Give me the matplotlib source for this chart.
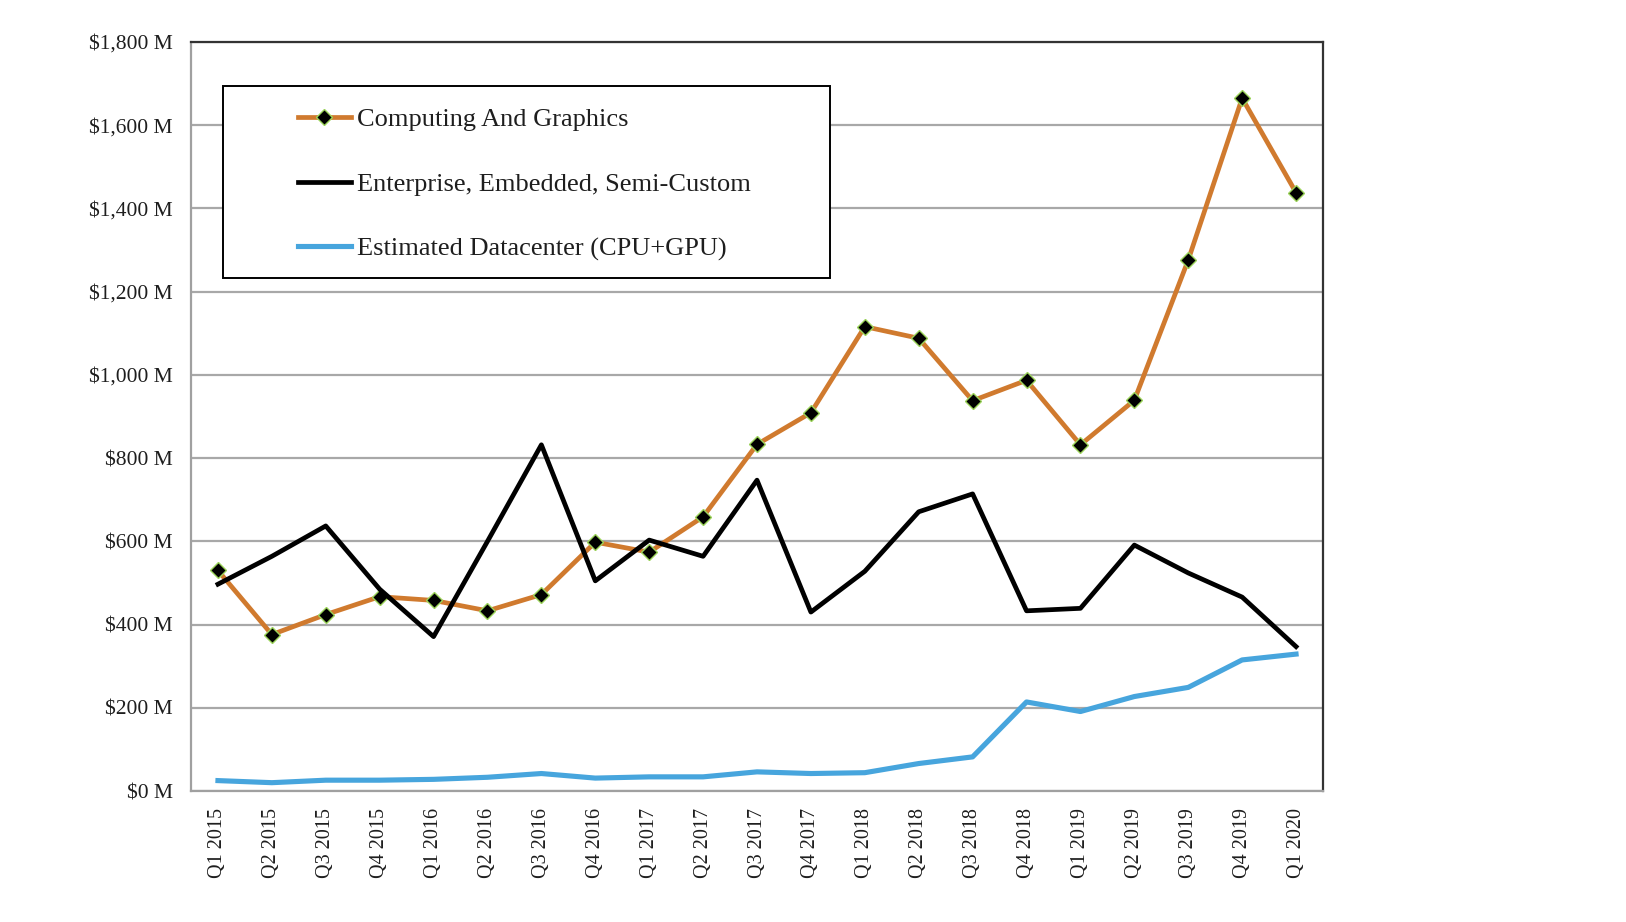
import matplotlib.pyplot as plt
from matplotlib.patches import Rectangle
from matplotlib.ticker import FuncFormatter

quarters = ['Q1 2015', 'Q2 2015', 'Q3 2015', 'Q4 2015',
            'Q1 2016', 'Q2 2016', 'Q3 2016', 'Q4 2016',
            'Q1 2017', 'Q2 2017', 'Q3 2017', 'Q4 2017',
            'Q1 2018', 'Q2 2018', 'Q3 2018', 'Q4 2018',
            'Q1 2019', 'Q2 2019', 'Q3 2019', 'Q4 2019',
            'Q1 2020']

# revenue, $M
computing = [530, 376, 424, 467, 458, 433, 472, 598, 574, 659,
             833, 909, 1116, 1088, 938, 987, 832, 939, 1276, 1665, 1438]
enterprise = [497, 564, 637, 485, 371, 600, 832, 505, 603, 564,
              747, 430, 528, 671, 714, 433, 439, 591, 524, 466, 347]
datacenter = [25, 20, 26, 26, 28, 33, 42, 31, 34, 34,
              46, 42, 44, 66, 82, 214, 191, 227, 249, 315, 329]

series_names = ['Computing And Graphics',
                'Enterprise, Embedded, Semi-Custom',
                'Estimated Datacenter (CPU+GPU)']

plt.rcParams['font.family'] = ['Liberation Serif', 'DejaVu Serif']

fig = plt.figure(figsize=(16.26, 9.22), dpi=100)
ax = fig.add_axes([191 / 1626, 1 - 791 / 922, 1132 / 1626, 749 / 922])

x = list(range(len(quarters)))
ax.plot(x, computing, color='#D07A2E', lw=3.4, marker='D', ms=8.5,
        mfc='black', mec='#9BD35A', mew=1.0, label=series_names[0], zorder=3)
ax.plot(x, enterprise, color='black', lw=3.4, label=series_names[1], zorder=4)
ax.plot(x, datacenter, color='#47A5DD', lw=3.7, label=series_names[2], zorder=4)

ax.set_xlim(-0.5, len(quarters) - 0.5)
ax.set_ylim(0, 1800)
ax.set_yticks(range(0, 1801, 200))
ax.yaxis.set_major_formatter(FuncFormatter(lambda v, p: '${:,.0f} M'.format(v)))
ax.set_xticks(x)
ax.set_xticklabels(quarters, rotation=90)

ax.tick_params(axis='y', length=0, pad=13, labelsize=15.5, colors='#1E1E1E')
ax.tick_params(axis='x', length=0, pad=12, labelsize=14.5, colors='#1E1E1E')

ax.grid(axis='y', color='#A8A8A8', lw=1.6)
ax.set_axisbelow(True)
for side in ['left', 'bottom']:
    ax.spines[side].set_color('#A0A0A0')
    ax.spines[side].set_linewidth(1.6)
for side in ['top', 'right']:
    ax.spines[side].set_color('#333333')
    ax.spines[side].set_linewidth(1.6)

# legend box drawn by hand, entries from a frameless legend on top of it
box = Rectangle((223 / 1626, 1 - 278 / 922), 607 / 1626, 192 / 922,
                transform=fig.transFigure, fc='white', ec='black', lw=1.4,
                clip_on=False, zorder=5)
ax.add_patch(box)
leg = ax.legend(loc='upper left', bbox_to_anchor=(298 / 1626, 1 - 108 / 922),
                bbox_transform=fig.transFigure, frameon=False, fontsize=19,
                borderpad=0, borderaxespad=0, handlelength=2.0,
                handletextpad=0.22, labelspacing=1.55)
leg.set_zorder(6)
for t in leg.get_texts():
    t.set_color('#1E1E1E')

fig.savefig('out.png', dpi=100)
